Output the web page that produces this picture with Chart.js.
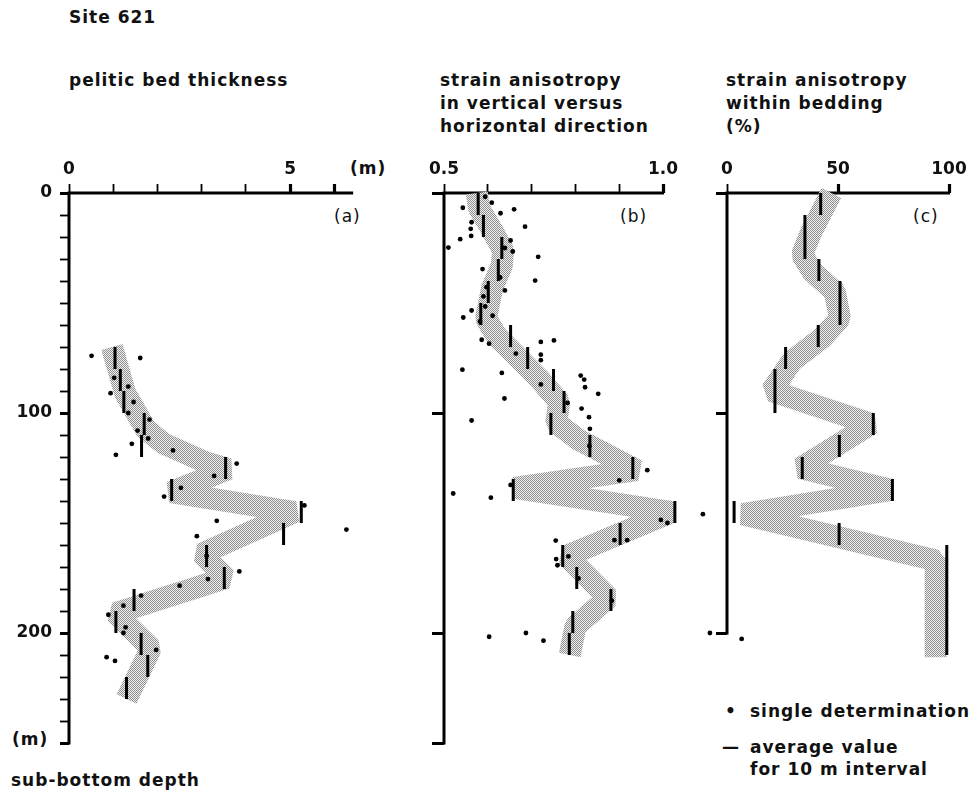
<!DOCTYPE html>
<html>
<head>
<meta charset="utf-8">
<title>Site 621</title>
<script src="https://cdn.jsdelivr.net/npm/chart.js@4.4.1/dist/chart.umd.min.js"></script>
<style>
  html, body { margin: 0; padding: 0; background: #fff; }
  body { width: 973px; height: 794px; position: relative; overflow: hidden;
         font-family: "DejaVu Sans", sans-serif; font-weight: bold; color: #111; }
  .t { position: absolute; font-size: 17px; letter-spacing: 1px; white-space: nowrap; line-height: 23px; }
  .n { font-weight: normal; }
  canvas { position: absolute; }
</style>
</head>
<body>
<div class="t" style="left:69px;top:6px">Site 621</div>
<div class="t" style="left:69px;top:69px">pelitic bed thickness</div>
<div class="t" style="left:440px;top:69px">strain anisotropy<br>in vertical versus<br>horizontal direction</div>
<div class="t" style="left:726px;top:69px">strain anisotropy<br>within bedding<br>(%)</div>

<div class="t" style="left:350px;top:157px">(m)</div>
<div class="t n" style="left:334px;top:205px">(a)</div>
<div class="t n" style="left:620px;top:205px">(b)</div>
<div class="t n" style="left:913px;top:205px">(c)</div>

<div class="t" style="left:12px;top:728px">(m)</div>
<div class="t" style="left:11px;top:769px">sub-bottom depth</div>

<div class="t" style="left:725px;top:700px">•</div>
<div class="t" style="left:750px;top:700px">single determination</div>
<div class="t" style="left:722px;top:736px">—</div>
<div class="t" style="left:750px;top:736px">average value</div>
<div class="t" style="left:750px;top:758px">for 10 m interval</div>

<canvas id="pa" width="363" height="607" style="left:0px;top:140px"></canvas>
<canvas id="pb" width="342" height="607" style="left:380px;top:140px"></canvas>
<canvas id="pc" width="289" height="531" style="left:680px;top:140px"></canvas>

<script>
// ---- (a) pelitic bed thickness (m) ----
const aTicks = [0, 1, 2, 3, 4, 5, 6];
const aTickLabels = ['0', '', '', '', '', '5', ''];
const aMeanTops = [70, 80, 90, 100, 110, 120, 130, 140, 150, 160, 170, 180, 190, 200, 210, 220];
const aMeans = [1.04, 1.16, 1.24, 1.70, 1.64, 3.54, 2.32, 5.25, 4.85, 3.11, 3.51, 1.47, 1.06, 1.63, 1.78, 1.30];
const aDotValues = [0.51, 1.61, 1.02, 1.34, 0.94, 1.46, 1.34, 1.82, 1.55, 1.79, 1.42, 1.06, 2.35, 3.79, 3.28,
                    2.53, 2.15, 5.32, 6.27, 3.34, 2.89, 3.11, 3.85, 3.14, 2.50, 1.63, 1.23, 0.89, 1.28, 1.23,
                    1.97, 0.85, 1.04];
const aDotDepths = [74, 75, 84, 88, 91, 95, 100, 103, 108, 111.6, 114, 119, 117, 123, 128.6,
                    134, 138, 142, 153, 149, 156, 165, 172, 175.5, 178.5, 183, 187.6, 191.7, 197.4, 200,
                    207.7, 211, 212.7];
const aTrendValues = [0.97, 1.27, 1.74, 2.15, 3.1, 3.6, 2.3, 5.1, 3.0, 3.55, 1.05, 1.85, 1.3];
const aTrendDepths = [70, 91, 107.5, 114, 122.5, 125.5, 136, 145, 164, 175, 191, 207, 230];

// ---- (b) strain anisotropy, vertical versus horizontal ----
const bTicks = [0.5, 0.6, 0.7, 0.8, 0.9, 1.0];
const bTickLabels = ['0.5', '', '', '', '', '1.0'];
const bMeanTops = [0, 10, 20, 30, 40, 50, 60, 70, 80, 90, 100, 110, 120, 130, 140, 150, 160, 170, 180, 190, 200];
const bMeans = [0.578, 0.59, 0.632, 0.624, 0.601, 0.584, 0.652, 0.691, 0.75, 0.774, 0.744, 0.833, 0.931,
                0.658, 1.027, 0.902, 0.771, 0.803, 0.881, 0.794, 0.786];
const bDotValues = [0.594, 0.609, 0.543, 0.629, 0.66, 0.563, 0.561, 0.685, 0.562, 0.537, 0.51, 0.652, 0.657,
                    0.639, 0.715, 0.588, 0.628, 0.708, 0.597, 0.639, 0.59, 0.594, 0.563, 0.611, 0.544, 0.582,
                    0.586, 0.603, 0.721, 0.751, 0.664, 0.721, 0.721, 0.542, 0.632, 0.721, 0.812, 0.82, 0.822,
                    0.852, 0.638, 0.782, 0.814, 0.563, 0.831, 0.833, 0.832, 0.964, 0.90, 0.652, 0.521, 0.607,
                    1.091, 0.995, 1.01, 0.889, 0.918, 0.755, 0.784, 0.756, 0.759, 0.807, 0.883, 0.603, 0.687,
                    0.727, 1.107];
const bDotDepths = [1.7, 4.4, 6.7, 9.2, 7.4, 13.3, 16.3, 15.3, 19.5, 21, 24.8, 21.6, 26.6,
                    25, 29, 34.6, 38.4, 39.8, 42.8, 44.3, 47, 51.6, 53.4, 55.8, 56.6, 58.4,
                    66.7, 68.5, 67.7, 67, 73, 73.5, 76, 80.3, 81.8, 87, 83, 84.8, 88.3,
                    91.3, 93.4, 95.4, 98, 103.4, 101.9, 107.2, 115, 126, 130.6, 132.7, 136.6, 138.5,
                    146, 148.6, 150, 157.8, 157.8, 158, 165.2, 166.4, 169.2, 175.2, 185.3, 201.7, 200,
                    203.5, 200];
const bTrendValues = [0.575, 0.58, 0.61, 0.635, 0.632, 0.61, 0.596, 0.62, 0.67, 0.72, 0.763, 0.756, 0.806,
                      0.94, 0.66, 1.02, 0.78, 0.833, 0.875, 0.8, 0.787];
const bTrendDepths = [0, 7, 17, 26, 33, 43, 57, 65, 75, 85, 95, 104.5, 112,
                      126, 134, 145, 165, 175.5, 184, 197, 210];

// ---- (c) strain anisotropy within bedding (%) ----
const cTicks = [0, 50, 100];
const cTickLabels = ['0', '50', '100'];
const cMeanTops = [0, 10, 20, 30, 40, 50, 60, 70, 80, 90, 100, 110, 120, 130, 140, 150, 160, 170, 180, 190, 200];
const cMeans = [42.2, 35.1, 35.1, 41.4, 50.9, 50.9, 41.1, 26.4, 21.6, 21.6, 65.9, 50.6, 33.9, 74.5, 3.2,
                50.5, 99, 99, 99, 99, 99];
const cDotValues = [6.6];
const cDotDepths = [202.7];
const cTrendValues = [47, 37.8, 33.8, 38.7, 48.6, 50.9, 42.6, 29.1, 20.1, 65, 33, 74, 7, 94, 94];
const cTrendDepths = [0, 18, 28, 36, 45, 57, 66, 76.5, 90, 105, 125, 135, 146, 167, 211];

// depth axis ticks
const depthTicksA = [0, 10, 20, 30, 40, 50, 60, 70, 80, 90, 100, 110, 120, 130, 140, 150, 160, 170, 180, 190,
                     200, 210, 220, 230, 240, 250];
const depthLabels = { 0: '0', 100: '100', 200: '200' };
const depthTicksB = [0, 100, 200, 250];
const depthTicksC = [0, 100, 200];

const INTERVAL = 10;
const FONT = { family: '"DejaVu Sans", sans-serif', size: 17, weight: 'bold' };

// fine dot screen used for the trend band
function stipplePattern() {
  const c = document.createElement('canvas');
  c.width = 2; c.height = 2;
  const g = c.getContext('2d');
  g.fillStyle = '#f0f0f0'; g.fillRect(0, 0, 2, 2);
  g.fillStyle = '#8f8f8f'; g.fillRect(0, 0, 1, 1); g.fillRect(1, 1, 1, 1);
  return g.createPattern(c, 'repeat');
}
const STIPPLE = stipplePattern();

// axis lines with their own extents (data may run past the drawn axis)
const axisFrame = {
  id: 'axisFrame',
  beforeDatasetsDraw(chart, args, o) {
    const { ctx, scales: { x, y } } = chart;
    const x0 = x.getPixelForValue(o.xFrom), x1 = x.getPixelForValue(o.xTo);
    const y0 = y.getPixelForValue(0), y1 = y.getPixelForValue(o.yTo);
    ctx.save();
    ctx.strokeStyle = '#000';
    ctx.lineCap = 'butt';
    ctx.lineWidth = 2.8;
    ctx.beginPath(); ctx.moveTo(x0, y0); ctx.lineTo(x1 + 1, y0); ctx.stroke();
    ctx.lineWidth = 3;
    ctx.beginPath(); ctx.moveTo(x0, y0 - 1.4); ctx.lineTo(x0, y1 + 1.5); ctx.stroke();
    ctx.restore();
  }
};

const pairs = (xs, ys) => xs.map((x, i) => ({ x: x, y: ys[i] }));

// one vertical segment per 10 m interval, broken by gaps
function intervalSegments(tops, vals) {
  const out = [];
  tops.forEach((t, i) => {
    out.push({ x: vals[i], y: t }, { x: vals[i], y: t + INTERVAL }, { x: vals[i], y: null });
  });
  return out;
}

function panel(id, p) {
  return new Chart(document.getElementById(id), {
    type: 'scatter',
    plugins: [axisFrame],
    data: {
      datasets: [
        { data: pairs(p.trendX, p.trendY), showLine: true, borderColor: STIPPLE, borderWidth: 22,
          borderJoinStyle: 'bevel', borderCapStyle: 'butt', pointRadius: 0, clip: false, order: 3 },
        { data: intervalSegments(p.meanTops, p.means), showLine: true, borderColor: '#000', borderWidth: 3,
          borderCapStyle: 'butt', pointRadius: 0, clip: false, order: 2 },
        { data: pairs(p.dotX, p.dotY), showLine: false, pointRadius: 2.4, pointBackgroundColor: '#000',
          pointBorderWidth: 0, clip: false, order: 1 }
      ]
    },
    options: {
      responsive: false, animation: false, events: [],
      layout: { autoPadding: false, padding: { left: 0, top: 0, right: p.padR, bottom: p.padB } },
      plugins: {
        legend: { display: false }, tooltip: { enabled: false },
        axisFrame: { xFrom: p.xMin, xTo: p.xLineEnd, yTo: p.yLineEnd }
      },
      scales: {
        x: {
          type: 'linear', position: 'top', min: p.xMin, max: p.xMax,
          afterFit: s => { s.height = 53; s.paddingLeft = 0; s.paddingRight = 0; },
          afterBuildTicks: s => { s.ticks = p.xTicks.map(v => ({ value: v })); },
          ticks: { autoSkip: false, maxRotation: 0, padding: 4, color: '#111', font: FONT,
                   callback: (v, i) => p.xLabels[i] },
          grid: { drawOnChartArea: false, drawTicks: true, tickLength: 9, tickColor: '#000',
                  tickWidth: c => (c.index === p.xTicks.length - 1 || p.xTicks[c.index] === p.xMajor) ? 3.2 : 1.8 },
          border: { display: false }
        },
        y: {
          type: 'linear', reverse: true, min: 0, max: p.yMax,
          afterFit: s => { s.width = p.yW; s.paddingTop = 0; s.paddingBottom = 0; },
          afterBuildTicks: s => { s.ticks = p.yTicks.map(v => ({ value: v })); },
          ticks: { autoSkip: false, padding: 8, color: '#111', font: FONT,
                   callback: v => (p.yLabels && depthLabels[v] !== undefined) ? depthLabels[v] : '' },
          grid: { drawOnChartArea: false, drawTicks: true, tickLength: p.yTickLen, tickColor: '#000',
                  tickWidth: c => (p.yTicks[c.index] % 100 === 0 || p.yTicks[c.index] === p.yLineEnd) ? 3 : 1.8 },
          border: { display: false }
        }
      }
    }
  });
}

panel('pa', {
  xMin: 0, xMax: 6.6, xLineEnd: 6.4, xTicks: aTicks, xLabels: aTickLabels, xMajor: 5,
  yMax: 250, yLineEnd: 250, yTicks: depthTicksA, yLabels: true, yTickLen: 9, yW: 69, padR: 2, padB: 4,
  meanTops: aMeanTops, means: aMeans, dotX: aDotValues, dotY: aDotDepths,
  trendX: aTrendValues, trendY: aTrendDepths
});
panel('pb', {
  xMin: 0.5, xMax: 1.13, xLineEnd: 1.0, xTicks: bTicks, xLabels: bTickLabels, xMajor: 1.0,
  yMax: 250, yLineEnd: 250, yTicks: depthTicksB, yLabels: false, yTickLen: 12, yW: 64, padR: 2, padB: 4,
  meanTops: bMeanTops, means: bMeans, dotX: bDotValues, dotY: bDotDepths,
  trendX: bTrendValues, trendY: bTrendDepths
});
panel('pc', {
  xMin: 0, xMax: 100, xLineEnd: 100, xTicks: cTicks, xLabels: cTickLabels, xMajor: 50,
  yMax: 215, yLineEnd: 200, yTicks: depthTicksC, yLabels: false, yTickLen: 11, yW: 47, padR: 20, padB: 5,
  meanTops: cMeanTops, means: cMeans, dotX: cDotValues, dotY: cDotDepths,
  trendX: cTrendValues, trendY: cTrendDepths
});
</script>
</body>
</html>
